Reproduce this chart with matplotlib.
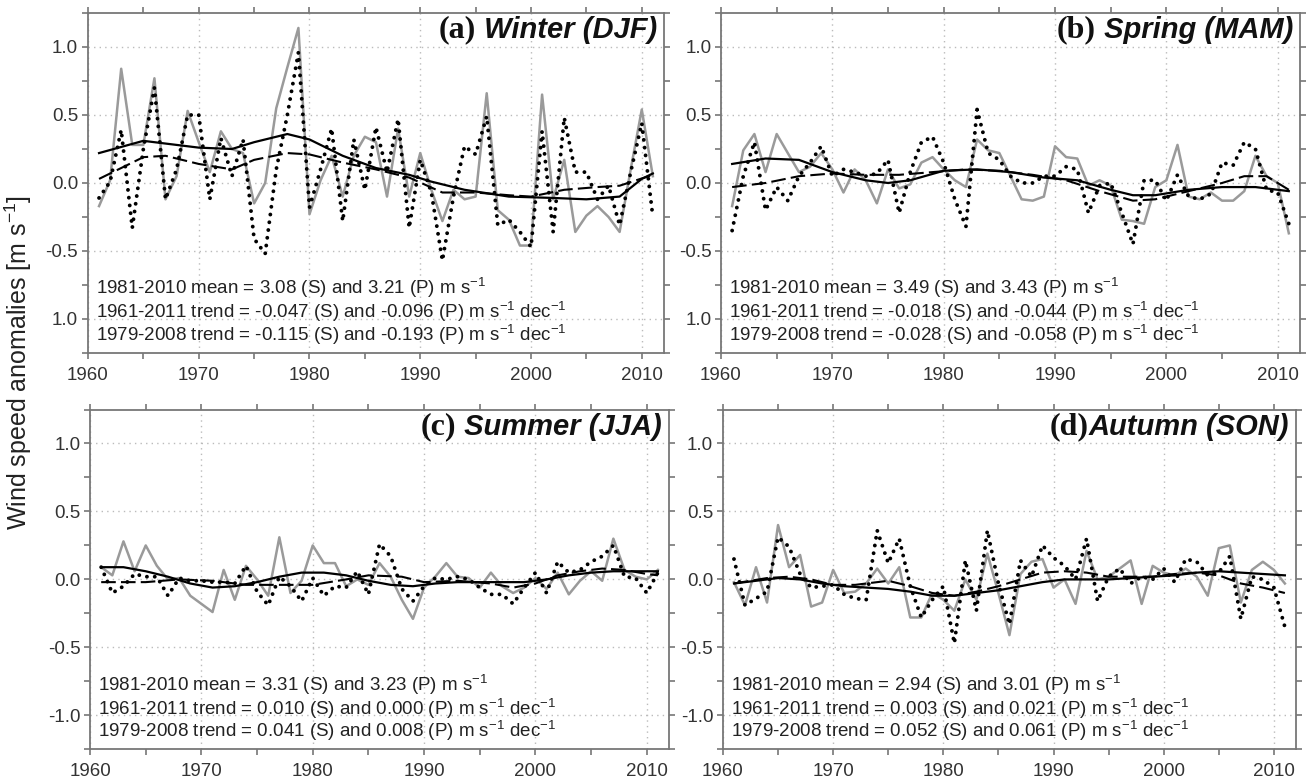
import matplotlib
matplotlib.use('Agg')
import matplotlib.pyplot as plt
from matplotlib.ticker import MultipleLocator
import numpy as np

plt.rcParams['font.family'] = 'Liberation Sans'
plt.rcParams['mathtext.fontset'] = 'custom'
plt.rcParams['mathtext.rm'] = 'Liberation Sans'
plt.rcParams['mathtext.default'] = 'regular'

years = np.arange(1961, 2012)

# ---- (a) winter ----
win_s = [-0.17, 0.02, 0.84, 0.28, 0.28, 0.77, -0.12, 0.05, 0.53, 0.30,
         0.08, 0.38, 0.25, 0.22, -0.15, 0.00, 0.55, 0.85, 1.14, -0.23,
         0.02, 0.20, -0.10, 0.20, 0.34, 0.30, -0.10, 0.40, -0.10, 0.22,
         -0.05, -0.28, -0.05, -0.12, -0.10, 0.66, -0.20, -0.27, -0.46, -0.46,
         0.65, -0.12, 0.17, -0.36, -0.24, -0.17, -0.25, -0.36, 0.10, 0.54, 0.05]
win_p = [-0.11, 0.01, 0.39, -0.33, 0.25, 0.70, -0.12, 0.10, 0.50, 0.50,
         -0.12, 0.33, 0.05, 0.32, -0.41, -0.52, 0.10, 0.50, 0.96, -0.18,
         0.10, 0.40, -0.28, 0.32, -0.05, 0.41, 0.08, 0.47, -0.33, 0.17,
         -0.07, -0.57, -0.10, 0.27, 0.21, 0.49, -0.31, -0.27, -0.36, -0.47,
         0.38, -0.36, 0.48, 0.08, 0.08, -0.12, -0.02, -0.31, 0.08, 0.44, -0.25]
win_s_yr = [1961, 1965, 1970, 1973, 1975, 1978, 1980, 1983, 1986, 1989, 1991, 1994, 1998, 2002, 2005, 2008, 2010, 2011]
win_s_sm = [0.22, 0.31, 0.26, 0.25, 0.30, 0.36, 0.32, 0.20, 0.11, 0.06, 0.01, -0.05, -0.10, -0.11, -0.12, -0.10, 0.03, 0.07]
win_p_yr = [1961, 1965, 1967, 1970, 1973, 1975, 1978, 1980, 1983, 1986, 1989, 1992, 1995, 1998, 2000, 2003, 2006, 2008, 2011]
win_p_sm = [0.03, 0.19, 0.20, 0.14, 0.10, 0.17, 0.22, 0.21, 0.15, 0.10, 0.04, -0.07, -0.07, -0.09, -0.10, -0.05, -0.03, -0.02, 0.06]

# ---- (b) spring ----
spr_s = [-0.17, 0.24, 0.36, 0.08, 0.36, 0.22, 0.08, 0.12, 0.22, 0.10,
         -0.07, 0.10, 0.02, -0.15, 0.10, -0.04, -0.01, 0.15, 0.19, 0.10,
         0.02, -0.03, 0.32, 0.24, 0.22, 0.05, -0.12, -0.13, -0.10, 0.27,
         0.19, 0.18, -0.02, 0.02, -0.02, -0.27, -0.28, -0.30, -0.03, 0.02,
         0.28, -0.10, -0.12, -0.07, -0.13, -0.13, -0.06, 0.20, 0.05, 0.00, -0.37]
spr_p = [-0.35, 0.05, 0.30, -0.20, -0.03, -0.13, 0.05, 0.15, 0.27, 0.05,
         0.10, 0.08, 0.05, 0.07, 0.17, -0.22, 0.08, 0.30, 0.34, 0.15,
         -0.12, -0.32, 0.54, 0.22, 0.17, 0.05, 0.00, 0.00, 0.05, 0.05,
         0.12, 0.10, -0.22, -0.02, 0.00, -0.22, -0.45, 0.02, 0.02, -0.13,
         0.06, -0.10, -0.12, -0.08, 0.15, 0.13, 0.30, 0.25, -0.05, -0.07, -0.30]
spr_s_yr = [1961, 1964, 1967, 1970, 1973, 1975, 1977, 1980, 1983, 1986, 1989, 1992, 1995, 1997, 1999, 2002, 2005, 2008, 2011]
spr_s_sm = [0.14, 0.18, 0.17, 0.08, 0.02, 0.00, 0.02, 0.09, 0.10, 0.08, 0.04, 0.02, -0.05, -0.09, -0.09, -0.05, -0.03, -0.03, -0.06]
spr_p_yr = [1961, 1964, 1967, 1970, 1973, 1976, 1979, 1982, 1985, 1988, 1991, 1994, 1997, 1999, 2002, 2005, 2007, 2009, 2011]
spr_p_sm = [-0.03, 0.00, 0.05, 0.07, 0.06, 0.06, 0.08, 0.10, 0.09, 0.06, 0.02, -0.06, -0.13, -0.12, -0.06, 0.00, 0.05, 0.05, -0.05]

# ---- (c) summer ----
sum_s = [0.09, 0.03, 0.28, 0.06, 0.25, 0.10, 0.00, 0.01, -0.12, -0.18,
         -0.24, 0.07, -0.15, 0.10, 0.00, -0.12, 0.31, -0.10, -0.01, 0.25,
         0.12, 0.12, -0.05, 0.00, -0.04, 0.12, 0.02, -0.15, -0.29, -0.06,
         0.02, 0.12, 0.02, 0.01, -0.06, 0.05, -0.05, -0.10, -0.06, 0.01,
         -0.07, 0.05, -0.11, -0.01, 0.06, -0.01, 0.30, 0.07, 0.02, 0.00, 0.07]
sum_p = [0.09, -0.10, -0.05, 0.04, 0.02, 0.02, -0.12, 0.01, -0.01, -0.01,
         -0.02, -0.02, -0.03, 0.10, -0.09, -0.19, 0.02, -0.05, -0.16, 0.01,
         -0.12, -0.05, -0.06, 0.06, -0.11, 0.26, 0.17, -0.07, -0.16, -0.05,
         0.01, 0.00, 0.02, 0.00, -0.06, -0.11, -0.11, -0.18, -0.06, 0.05,
         -0.10, 0.13, 0.05, 0.07, 0.13, 0.17, 0.25, 0.02, 0.01, -0.10, 0.05]
sum_s_yr = [1961, 1963, 1965, 1967, 1969, 1971, 1973, 1975, 1977, 1979, 1981, 1983, 1985, 1987, 1989,
            1991, 1993, 1995, 1997, 1999, 2001, 2003, 2005, 2007, 2009, 2011]
sum_s_sm = [0.09, 0.09, 0.06, 0.02, -0.03, -0.06, -0.05, -0.02, 0.02, 0.05, 0.05, 0.03, -0.01, -0.04, -0.05,
            -0.03, -0.02, -0.02, -0.02, -0.02, 0.00, 0.03, 0.05, 0.06, 0.06, 0.06]
sum_p_yr = [1961, 1965, 1968, 1971, 1974, 1977, 1980, 1983, 1985, 1988, 1990, 1993, 1996, 1998, 2000,
            2002, 2004, 2006, 2008, 2010, 2011]
sum_p_sm = [-0.02, -0.02, 0.00, -0.01, -0.04, -0.04, -0.04, 0.00, 0.03, 0.02, -0.02, -0.01, -0.03, -0.06, -0.03,
            0.03, 0.06, 0.08, 0.07, 0.04, 0.03]

# ---- (d) autumn ----
aut_s = [-0.02, -0.19, 0.09, -0.17, 0.40, 0.09, 0.18, -0.20, -0.17, 0.07,
         -0.10, -0.09, -0.03, 0.08, -0.03, 0.09, -0.28, -0.28, -0.10, -0.15,
         -0.23, 0.00, -0.15, 0.19, -0.10, -0.41, 0.04, 0.13, 0.15, -0.06,
         0.00, -0.18, 0.21, 0.00, 0.02, 0.08, 0.14, -0.18, 0.10, 0.05,
         0.03, 0.08, 0.02, -0.12, 0.23, 0.25, -0.17, 0.07, 0.13, 0.07, -0.03]
aut_p = [0.15, -0.19, -0.14, -0.09, 0.31, 0.24, 0.04, -0.06, -0.05, -0.04,
         -0.11, -0.14, -0.15, 0.36, 0.12, 0.30, -0.05, -0.28, -0.15, -0.05,
         -0.47, 0.14, -0.23, 0.36, -0.03, -0.33, 0.14, 0.02, 0.25, 0.16,
         0.10, 0.00, 0.30, -0.16, 0.02, 0.08, -0.03, 0.02, 0.00, 0.08,
         -0.02, 0.15, 0.13, 0.03, 0.05, 0.17, -0.29, 0.02, 0.00, -0.06, -0.35]
aut_s_yr = [1961, 1963, 1965, 1967, 1969, 1971, 1973, 1975, 1977, 1979, 1981, 1983, 1985, 1987, 1989,
            1991, 1993, 1995, 1997, 1999, 2001, 2003, 2005, 2007, 2009, 2011]
aut_s_sm = [-0.03, -0.01, 0.01, 0.00, -0.03, -0.05, -0.06, -0.07, -0.09, -0.12, -0.12, -0.10, -0.08, -0.05, -0.02,
            0.00, 0.00, 0.00, 0.01, 0.02, 0.03, 0.05, 0.06, 0.05, 0.04, 0.03]
aut_p_yr = [1961, 1964, 1966, 1968, 1970, 1972, 1975, 1977, 1979, 1981, 1983, 1985, 1987, 1989, 1991,
            1993, 1995, 1997, 1999, 2001, 2003, 2005, 2007, 2009, 2011]
aut_p_sm = [-0.03, 0.01, 0.02, 0.00, -0.04, -0.04, -0.01, -0.05, -0.10, -0.12, -0.09, -0.05, 0.00, 0.05, 0.06,
            0.05, 0.02, 0.02, 0.02, 0.04, 0.05, 0.03, -0.03, -0.06, -0.10]

panels = [
    ('(a)', ' Winter (DJF)', win_s, win_p, win_s_yr, win_s_sm, win_p_yr, win_p_sm,
     ['1981-2010 mean = 3.08 (S) and 3.21 (P) m s$^{-1}$',
      '1961-2011 trend = -0.047 (S) and -0.096 (P) m s$^{-1}$ dec$^{-1}$',
      '1979-2008 trend = -0.115 (S) and -0.193 (P) m s$^{-1}$ dec$^{-1}$']),
    ('(b)', ' Spring (MAM)', spr_s, spr_p, spr_s_yr, spr_s_sm, spr_p_yr, spr_p_sm,
     ['1981-2010 mean = 3.49 (S) and 3.43 (P) m s$^{-1}$',
      '1961-2011 trend = -0.018 (S) and -0.044 (P) m s$^{-1}$ dec$^{-1}$',
      '1979-2008 trend = -0.028 (S) and -0.058 (P) m s$^{-1}$ dec$^{-1}$']),
    ('(c)', ' Summer (JJA)', sum_s, sum_p, sum_s_yr, sum_s_sm, sum_p_yr, sum_p_sm,
     ['1981-2010 mean = 3.31 (S) and 3.23 (P) m s$^{-1}$',
      '1961-2011 trend = 0.010 (S) and 0.000 (P) m s$^{-1}$ dec$^{-1}$',
      '1979-2008 trend = 0.041 (S) and 0.008 (P) m s$^{-1}$ dec$^{-1}$']),
    ('(d)', 'Autumn (SON)', aut_s, aut_p, aut_s_yr, aut_s_sm, aut_p_yr, aut_p_sm,
     ['1981-2010 mean = 2.94 (S) and 3.01 (P) m s$^{-1}$',
      '1961-2011 trend = 0.003 (S) and 0.021 (P) m s$^{-1}$ dec$^{-1}$',
      '1979-2008 trend = 0.052 (S) and 0.061 (P) m s$^{-1}$ dec$^{-1}$']),
]

boxes = [[0.0672, 0.5492, 0.4400, 0.4342],
         [0.5508, 0.5492, 0.4423, 0.4342],
         [0.0688, 0.0430, 0.4423, 0.4340],
         [0.5523, 0.0430, 0.4377, 0.4340]]

fig = plt.figure(figsize=(13.09, 7.83), dpi=100)

for i, (tag, name, s, p, sy, ss, py, ps, notes) in enumerate(panels):
    ax = fig.add_axes(boxes[i])
    ax.plot(years, s, color='#9a9a9a', lw=1.8, zorder=2)
    ax.plot(years, p, color='black', lw=2.8, linestyle=(0, (0.01, 2.0)),
            dash_capstyle='round', zorder=3)
    ax.plot(sy, ss, color='black', lw=1.6, zorder=4)
    ax.plot(py, ps, color='black', lw=1.5, linestyle=(0, (7, 2.5)), zorder=4)

    ax.set_xlim(1960, 2012)
    ax.set_ylim(-1.25, 1.25)
    ax.xaxis.set_major_locator(MultipleLocator(10))
    ax.xaxis.set_minor_locator(MultipleLocator(5))
    ax.set_yticks([-1.0, -0.5, 0.0, 0.5, 1.0])
    if i < 2:
        ax.set_yticklabels(['1.0', '-0.5', '0.0', '0.5', '1.0'])
    else:
        ax.set_yticklabels(['-1.0', '-0.5', '0.0', '0.5', '1.0'])
    ax.yaxis.set_minor_locator(MultipleLocator(0.25))
    ax.tick_params(which='both', direction='out', top=True, right=True,
                   color='#777777', width=1.2, labelcolor='#333333', labelsize=13.5)
    ax.tick_params(which='both', length=4)
    ax.tick_params(axis='x', pad=6)
    ax.tick_params(axis='y', pad=3)
    for sp in ax.spines.values():
        sp.set_color('#777777')
        sp.set_linewidth(1.3)
    ax.grid(True, which='major', linestyle=(0, (1, 3)), color='#bbbbbb', lw=1)

    for k, txt in enumerate(notes):
        ax.text(0.014, [0.19, 0.12, 0.054][k], txt, transform=ax.transAxes,
                ha='left', va='center', fontsize=13.5, color='#222222')

    t = ax.text(0.988, 0.95, name, transform=ax.transAxes, ha='right', va='center',
                fontsize=21, fontweight='bold', fontstyle='italic', color='#111111')
    ax.annotate(tag, xy=(0, 0.5), xycoords=t, xytext=(0, 0), textcoords='offset points',
                ha='right', va='center', fontsize=23, fontweight='bold',
                family='Liberation Serif', color='#111111')

fig.text(0.014, 0.537, 'Wind speed anomalies [m s$^{-1}$]', rotation=90,
         ha='center', va='center', fontsize=18, color='#222222')

fig.savefig('out.png', dpi=100)
